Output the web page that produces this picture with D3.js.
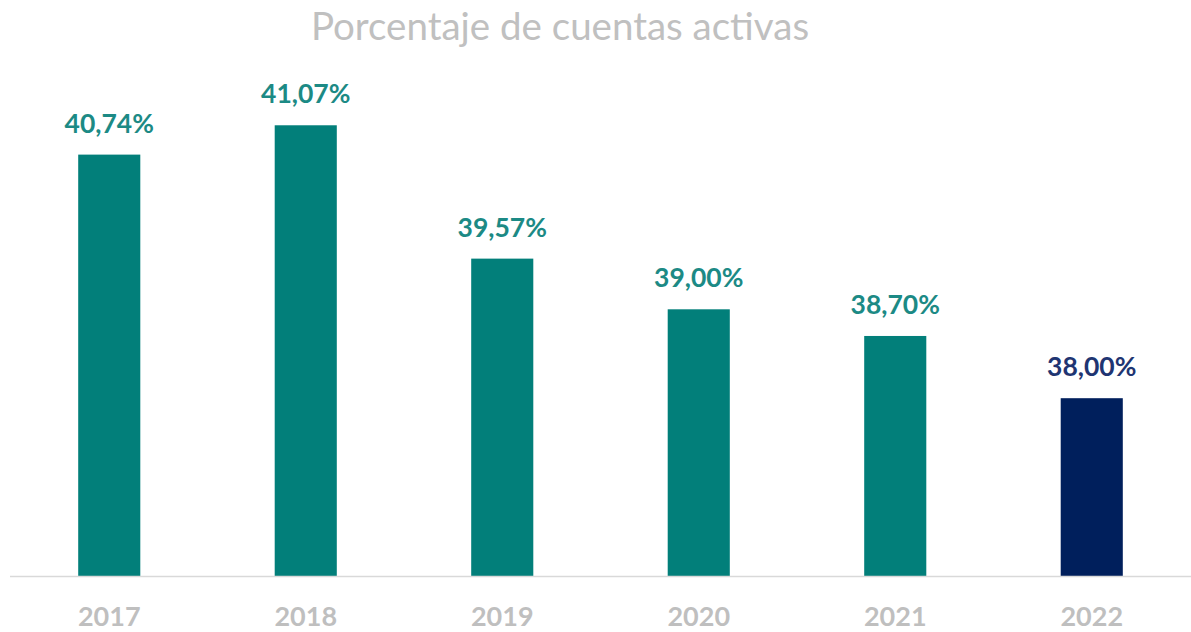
<!DOCTYPE html>
<html>
<head>
<meta charset="utf-8">
<script src="https://cdn.jsdelivr.net/npm/d3@7"></script>
<style>
  html, body { margin: 0; padding: 0; background: #ffffff; }
  svg { display: block; }
</style>
</head>
<body>
<svg id="chart" width="1191" height="632"></svg>
<script>
// Share of active accounts per year
const years = ["2017", "2018", "2019", "2020", "2021", "2022"];
const values = [40.74, 41.07, 39.57, 39.00, 38.70, 38.00];
const barColors = ["#027f7a", "#027f7a", "#027f7a", "#027f7a", "#027f7a", "#001f5c"];
const labelColors = ["#1c8a85", "#1c8a85", "#1c8a85", "#1c8a85", "#1c8a85", "#1f3572"];
const titleText = "Porcentaje de cuentas activas";

const W = 1191, H = 632;
const svg = d3.select("#chart");

const x = d3.scaleBand()
  .domain(years)
  .range([11, 1190])
  .paddingInner(0.684)
  .paddingOuter(0.342);

const y = d3.scaleLinear()
  .domain([36, 42])
  .range([576, 42.6]);

// Title
svg.append("text")
  .attr("x", 560)
  .attr("y", 40)
  .attr("text-anchor", "middle")
  .attr("font-family", "Lato, 'Open Sans', sans-serif")
  .attr("font-size", 38.5)
  .attr("fill", "#c0c0c0")
  .text(titleText);

// Bars
svg.append("g")
  .selectAll("rect")
  .data(values)
  .join("rect")
  .attr("x", (d, i) => x(years[i]))
  .attr("y", d => y(d))
  .attr("width", x.bandwidth())
  .attr("height", d => y(36) - y(d))
  .attr("fill", (d, i) => barColors[i]);

// Value labels
const fmt = v => v.toFixed(2).replace(".", ",") + "%";
svg.append("g")
  .selectAll("text")
  .data(values)
  .join("text")
  .attr("x", (d, i) => x(years[i]) + x.bandwidth() / 2)
  .attr("y", d => y(d) - 22)
  .attr("text-anchor", "middle")
  .attr("font-family", "Lato, 'Open Sans', sans-serif")
  .attr("font-weight", 700)
  .attr("font-size", 26.5)
  .attr("fill", (d, i) => labelColors[i])
  .text(d => fmt(d));

// Category axis
const xAxis = svg.append("g")
  .attr("transform", `translate(0,${y(36)})`)
  .call(d3.axisBottom(x).tickSize(0).tickPadding(0));
xAxis.select(".domain").remove();
xAxis.append("line")
  .attr("x1", 10).attr("x2", 1191)
  .attr("y1", 0.5).attr("y2", 0.5)
  .attr("stroke", "#d9d9d9")
  .attr("stroke-width", 1.5);
xAxis.selectAll(".tick text")
  .attr("y", 50)
  .attr("dy", 0)
  .attr("font-family", "Lato, 'Open Sans', sans-serif")
  .attr("font-weight", 700)
  .attr("font-size", 27)
  .attr("fill", "#bfbfbf");
</script>
</body>
</html>
